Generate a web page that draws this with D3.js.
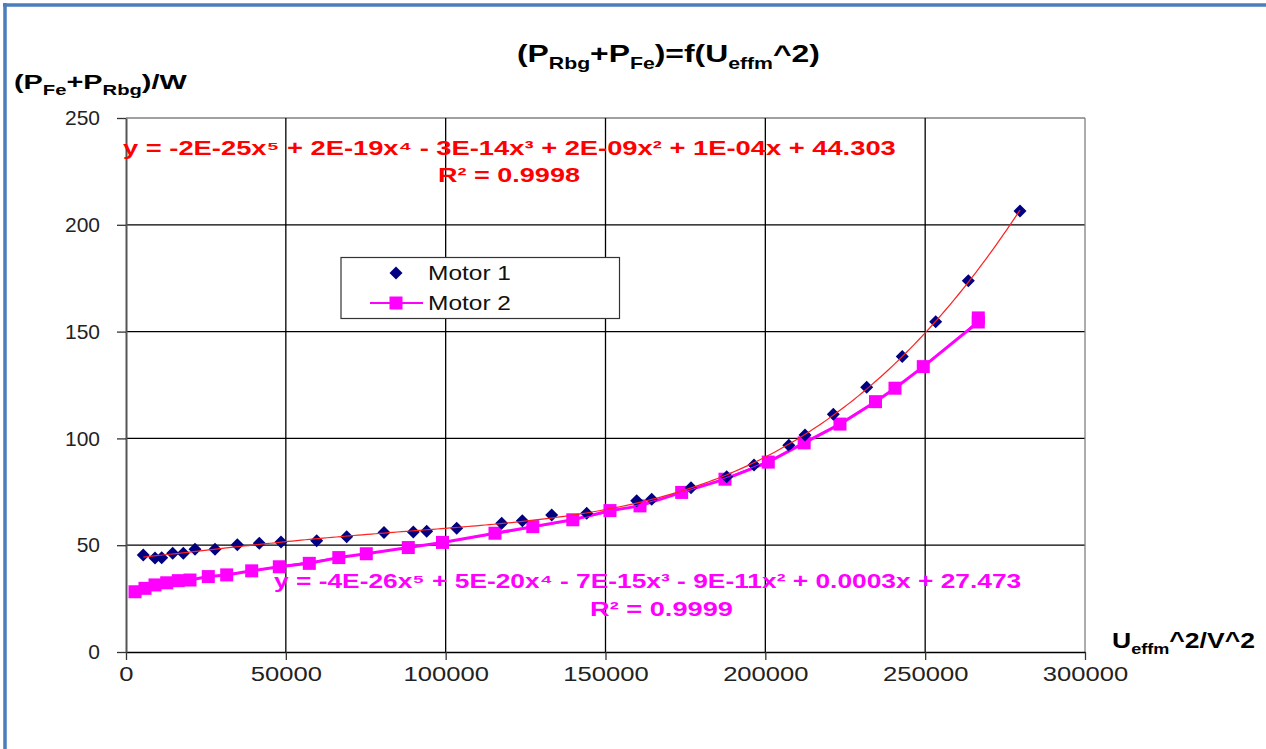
<!DOCTYPE html>
<html>
<head>
<meta charset="utf-8">
<script src="https://cdn.jsdelivr.net/npm/d3@7"></script>
<style>
  html, body { margin: 0; padding: 0; background: #fff; }
  svg { display: block; }
  text { font-family: "Liberation Sans", Arial, sans-serif; }
</style>
</head>
<body>
<svg id="chart" width="1266" height="749"></svg>
<script>
// Motor 1: U_effm^2 [V^2] and iron + friction losses [W]
const motor1U2 = [5400, 9070, 11170, 14610, 17930, 21590, 27840, 34820, 41700, 48480,
  59660, 69040, 80710, 89880, 94070, 103450, 117520, 123970, 133170, 144120,
  159760, 164450, 176740, 187910, 196450, 207340, 212410, 221260, 231710, 242840,
  253290, 263490, 279670];
const motor1P = [45.4, 44.0, 44.1, 46.2, 46.2, 48.1, 48.1, 50.2, 50.9, 51.5,
  52.1, 54.0, 55.9, 56.2, 56.5, 57.9, 60.3, 61.5, 64.1, 64.9,
  70.8, 71.5, 76.9, 82.1, 87.6, 96.8, 101.6, 111.3, 123.9, 138.3,
  154.6, 173.8, 206.5];

// Motor 2
const motor2U2 = [2820, 5940, 9070, 12730, 16360, 20020, 25750, 31500, 39320, 47960,
  57340, 66570, 75170, 88310, 99010, 115430, 127250, 139770, 151400, 160790,
  173830, 187380, 200920, 212150, 223350, 234460, 240560, 249410, 266620, 266620];
const motor2P = [28.2, 29.8, 31.4, 32.4, 33.4, 33.7, 35.3, 36.1, 38.0, 39.9,
  41.5, 44.2, 46.0, 48.9, 51.3, 55.6, 58.7, 61.9, 66.2, 68.4,
  74.7, 80.9, 88.9, 97.9, 106.7, 117.2, 123.5, 133.6, 154.5, 156.4];

const xTicks = [0, 50000, 100000, 150000, 200000, 250000, 300000];
const yTicks = [0, 50, 100, 150, 200, 250];

const seriesNames = ["Motor 1", "Motor 2"];
const eq1 = ["y = -2E-25x\u2075 + 2E-19x\u2074 - 3E-14x\u00B3 + 2E-09x\u00B2 + 1E-04x + 44.303", "R\u00B2 = 0.9998"];
const eq2 = ["y = -4E-26x\u2075 + 5E-20x\u2074 - 7E-15x\u00B3 - 9E-11x\u00B2 + 0.0003x + 27.473", "R\u00B2 = 0.9999"];

const svg = d3.select("#chart");
const W = 1266, H = 749;
const plot = { left: 126, right: 1085, top: 118, bottom: 652 };

const x = d3.scaleLinear().domain([0, 300000]).range([plot.left, plot.right]);
const y = d3.scaleLinear().domain([0, 250]).range([plot.bottom, plot.top]);

// stretch a group horizontally so its content spans a given width from x0
function fitWidth(g, x0, yb, target) {
  const bb = g.node().getBBox();
  const k = target / bb.width;
  g.attr("transform", `translate(${x0 - bb.x * k},${yb}) scale(${k},1)`);
}

// least-squares polynomial fit (x scaled to keep the normal equations well conditioned)
function polyfit(xs, ys, deg) {
  const s = 1e5, n = deg + 1;
  const A = Array.from({ length: n }, () => new Array(n + 1).fill(0));
  xs.forEach((xv, i) => {
    const t = xv / s;
    const p = [];
    for (let k = 0; k < n; k++) p.push(Math.pow(t, k));
    for (let r = 0; r < n; r++) {
      for (let c = 0; c < n; c++) A[r][c] += p[r] * p[c];
      A[r][n] += p[r] * ys[i];
    }
  });
  for (let c = 0; c < n; c++) {
    let piv = c;
    for (let r = c + 1; r < n; r++) if (Math.abs(A[r][c]) > Math.abs(A[piv][c])) piv = r;
    [A[c], A[piv]] = [A[piv], A[c]];
    for (let r = 0; r < n; r++) {
      if (r === c) continue;
      const f = A[r][c] / A[c][c];
      for (let k = c; k <= n; k++) A[r][k] -= f * A[c][k];
    }
  }
  const coef = A.map((row, i) => row[n] / row[i]);
  return xv => { const t = xv / s; let v = 0; for (let k = n - 1; k >= 0; k--) v = v * t + coef[k]; return v; };
}

// outer chart frame
svg.append("rect").attr("x", 0).attr("y", 0).attr("width", W).attr("height", H).attr("fill", "#fff");
svg.append("line").attr("x1", 5).attr("x2", 5).attr("y1", 3).attr("y2", H).attr("stroke", "#4a7ebb").attr("stroke-width", 3.5);
svg.append("line").attr("x1", 3).attr("x2", W).attr("y1", 5).attr("y2", 5).attr("stroke", "#4a7ebb").attr("stroke-width", 3.5);

// gridlines
const grid = svg.append("g");
grid.selectAll(".gy").data(yTicks.filter(v => v > 0)).join("line")
  .attr("x1", plot.left).attr("x2", plot.right)
  .attr("y1", d => y(d)).attr("y2", d => y(d))
  .attr("stroke", d => d === 250 ? "#808080" : "#000").attr("stroke-width", 1.3);
grid.selectAll(".gx").data(xTicks.filter(v => v > 0)).join("line")
  .attr("y1", plot.top).attr("y2", plot.bottom)
  .attr("x1", d => x(d)).attr("x2", d => x(d))
  .attr("stroke", d => d === 300000 ? "#808080" : "#000").attr("stroke-width", 1.3);

// axes
const xAxis = svg.append("g").attr("transform", `translate(0,${plot.bottom})`)
  .call(d3.axisBottom(x).tickValues(xTicks).tickFormat(d3.format("d")).tickSizeInner(8).tickSizeOuter(0));
xAxis.select(".domain").attr("stroke", "#000").attr("stroke-width", 1.5);
xAxis.selectAll(".tick line").attr("stroke", "#333").attr("stroke-width", 1.3);
xAxis.selectAll(".tick text").attr("font-size", 21).attr("fill", "#222").attr("y", 14)
  .attr("font-family", "Liberation Sans, Arial, sans-serif");

const yAxis = svg.append("g").attr("transform", `translate(${plot.left},0)`)
  .call(d3.axisLeft(y).tickValues(yTicks).tickSizeInner(9).tickSizeOuter(0));
yAxis.select(".domain").attr("stroke", "#555").attr("stroke-width", 2);
yAxis.selectAll(".tick line").attr("stroke", "#333").attr("stroke-width", 1.3);
yAxis.selectAll(".tick text").attr("font-size", 21).attr("fill", "#222").attr("x", -26)
  .attr("font-family", "Liberation Sans, Arial, sans-serif");

// widen the horizontal tick labels around their centres
xAxis.selectAll(".tick text").each(function () {
  const t = d3.select(this);
  t.attr("transform", "scale(1.22,1)").attr("x", 0);
});

const pts1 = motor1U2.map((u, i) => [u, motor1P[i]]);
const pts2 = motor2U2.map((u, i) => [u, motor2P[i]]);

// Motor 2 series line
svg.append("path").datum(pts2)
  .attr("fill", "none").attr("stroke", "#ff00ff").attr("stroke-width", 3)
  .attr("d", d3.line().x(d => x(d[0])).y(d => y(d[1])));

// Motor 2 markers
svg.append("g").selectAll("rect").data(pts2).join("rect")
  .attr("x", d => x(d[0]) - 6.5).attr("y", d => y(d[1]) - 6.5)
  .attr("width", 13).attr("height", 13).attr("fill", "#ff00ff");

// Motor 1 markers
const diamond = "M0,-6.5L6.5,0L0,6.5L-6.5,0Z";
svg.append("g").selectAll("path").data(pts1).join("path")
  .attr("d", diamond).attr("fill", "#000080")
  .attr("transform", d => `translate(${x(d[0])},${y(d[1])})`);

// polynomial trend lines (order 5)
function trend(pts, color, width) {
  const f = polyfit(pts.map(d => d[0]), pts.map(d => d[1]), 5);
  const x0 = d3.min(pts, d => d[0]), x1 = d3.max(pts, d => d[0]);
  const samples = d3.range(0, 201).map(i => x0 + (x1 - x0) * i / 200);
  svg.append("path").datum(samples)
    .attr("fill", "none").attr("stroke", color).attr("stroke-width", width)
    .attr("d", d3.line().x(d => x(d)).y(d => y(f(d))));
}
trend(pts2, "#ff00ff", 1);
trend(pts1, "#ff2020", 1.2);

// trend line equations
function label(text, x0, yb, target, color, size) {
  const g = svg.append("g");
  g.append("text").attr("font-size", size).attr("font-weight", "bold").attr("fill", color).text(text);
  fitWidth(g, x0, yb, target);
}
label(eq1[0], 123, 155, 773, "#ff0000", 20);
label(eq1[1], 438, 182, 142, "#ff0000", 20);
label(eq2[0], 274, 588, 748, "#ff00ff", 20);
label(eq2[1], 590, 616, 143, "#ff00ff", 20);

// title and axis titles with subscripts
function subText(parts, x0, yb, target, size, subSize) {
  const g = svg.append("g");
  const t = g.append("text").attr("font-size", size).attr("font-weight", "bold").attr("fill", "#000");
  parts.forEach(([s, sub]) => {
    if (sub) {
      t.append("tspan").attr("font-size", subSize).attr("dy", size * 0.28).text(s);
    } else {
      const ts = t.append("tspan").text(s);
      ts.attr("dy", 0);
    }
  });
  // restore baseline after each subscript
  let prevSub = false;
  t.selectAll("tspan").each(function (d, i) {
    const isSub = parts[i][1];
    if (!isSub && prevSub) d3.select(this).attr("dy", -size * 0.28);
    prevSub = isSub;
  });
  fitWidth(g, x0, yb, target);
}
subText([["(P"], ["Rbg", 1], ["+P"], ["Fe", 1], [")=f(U"], ["effm", 1], ["^2)"]], 517, 62, 303, 24, 16);
subText([["(P"], ["Fe", 1], ["+P"], ["Rbg", 1], [")/W"]], 14, 89, 173, 20, 14);
subText([["U"], ["effm", 1], ["^2/V^2"]], 1112, 648, 143, 22, 15);

// legend
const lg = svg.append("g");
lg.append("rect").attr("x", 341).attr("y", 257.5).attr("width", 278.5).attr("height", 61)
  .attr("fill", "#fff").attr("stroke", "#333").attr("stroke-width", 1.2);
lg.append("path").attr("d", diamond).attr("fill", "#000080").attr("transform", "translate(396,273)");
lg.append("line").attr("x1", 370).attr("x2", 423).attr("y1", 303).attr("y2", 303)
  .attr("stroke", "#ff00ff").attr("stroke-width", 2);
lg.append("rect").attr("x", 389.5).attr("y", 296.5).attr("width", 13).attr("height", 13).attr("fill", "#ff00ff");
seriesNames.forEach((name, i) => {
  const g = svg.append("g");
  g.append("text").attr("font-size", 21).attr("fill", "#111").text(name);
  fitWidth(g, 428, i === 0 ? 280 : 310, 83);
});
</script>
</body>
</html>
